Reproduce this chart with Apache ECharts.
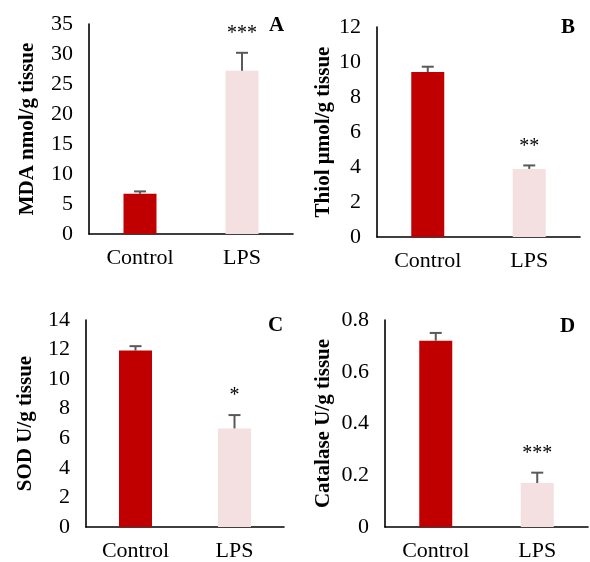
<!DOCTYPE html>
<html><head><meta charset="utf-8">
<script src="https://cdn.jsdelivr.net/npm/echarts@6/dist/echarts.min.js"></script>
<style>html,body{margin:0;padding:0;background:#fff}#c{width:590px;height:562px}</style>
</head><body><div id="c"></div>
<script>
var categories = ['Control', 'LPS'];
var mdaValues = [6.7, 27.2];
var mdaErrors = [0.4, 3.0];
var mdaSig = ['', '***'];
var thiolValues = [9.43, 3.89];
var thiolErrors = [0.3, 0.2];
var thiolSig = ['', '**'];
var sodValues = [11.93, 6.67];
var sodErrors = [0.3, 0.9];
var sodSig = ['', '*'];
var catValues = [0.72, 0.17];
var catErrors = [0.03, 0.04];
var catSig = ['', '***'];
var panelLetters = ['A', 'B', 'C', 'D'];
var yTitles = ['MDA nmol/g tissue', 'Thiol \u00b5mol/g tissue', 'SOD U/g tissue', 'Catalase U/g tissue'];
var yMax = [35, 12, 14, 0.8];
var yInterval = [5, 2, 2, 0.2];

var barColors = ['#C00000', '#F4E0E0'];
var FONT = '"Liberation Serif", "Times New Roman", serif';

var panels = [
  {v: mdaValues, e: mdaErrors, s: mdaSig},
  {v: thiolValues, e: thiolErrors, s: thiolSig},
  {v: sodValues, e: sodErrors, s: sodSig},
  {v: catValues, e: catErrors, s: catSig}
];
var grids = [
  {left: 89, top: 24, width: 204, height: 210},
  {left: 377, top: 27, width: 203, height: 210},
  {left: 86, top: 320, width: 198, height: 210},
  {left: 385, top: 320, width: 203, height: 209}
];
var nameGaps = [51, 43, 50, 51];
var letterPos = [[276, 23], [568, 25], [275, 323], [567, 324]];

var option = {
  backgroundColor: '#fff',
  animation: false,
  grid: grids.map(function (g) { return Object.assign({containLabel: false}, g); }),
  title: panelLetters.map(function (l, i) {
    return {text: l, left: letterPos[i][0] - 7, top: letterPos[i][1] - 8, padding: 0,
      textStyle: {fontFamily: FONT, fontWeight: 'bold', fontSize: 21, color: '#000'}};
  }),
  xAxis: grids.map(function (g, i) {
    return {type: 'category', gridIndex: i, data: categories,
      axisLine: {lineStyle: {color: '#000', width: 1.6}}, axisTick: {show: false},
      axisLabel: {fontFamily: FONT, fontSize: 22, color: '#000', margin: 13}};
  }),
  yAxis: grids.map(function (g, i) {
    return {type: 'value', gridIndex: i, min: 0, max: yMax[i], interval: yInterval[i],
      name: yTitles[i], nameLocation: 'middle', nameGap: nameGaps[i],
      nameTextStyle: {fontFamily: FONT, fontWeight: 'bold', fontSize: 21, color: '#000'},
      axisLine: {show: true, lineStyle: {color: '#000', width: 1.6}}, axisTick: {show: false},
      splitLine: {show: false},
      axisLabel: {fontFamily: FONT, fontSize: 22, color: '#000', margin: 16}};
  }),
  series: []
};

panels.forEach(function (p, i) {
  option.series.push({
    type: 'bar', xAxisIndex: i, yAxisIndex: i, barWidth: 33,
    data: p.v.map(function (v, k) { return {value: v, itemStyle: {color: barColors[k]}}; })
  });
  option.series.push({
    type: 'custom', xAxisIndex: i, yAxisIndex: i, z: 5,
    data: p.v.map(function (v, k) { return [k, v, v + p.e[k]]; }),
    renderItem: function (params, api) {
      var k = api.value(0);
      var base = api.coord([k, api.value(1)]);
      var top = api.coord([k, api.value(2)]);
      var sig = p.s[params.dataIndex];
      var children = [
        {type: 'line', shape: {x1: base[0], y1: base[1], x2: top[0], y2: top[1]},
          style: {stroke: '#595959', lineWidth: 2}},
        {type: 'line', shape: {x1: top[0] - 6, y1: top[1], x2: top[0] + 6, y2: top[1]},
          style: {stroke: '#595959', lineWidth: 2}}
      ];
      if (sig) {
        children.push({type: 'text', x: top[0], y: top[1] - 9,
          style: {text: sig, fontFamily: FONT, fontSize: 20, fill: '#000',
            align: 'center', verticalAlign: 'bottom'}});
      }
      return {type: 'group', children: children};
    }
  });
});

var chart = echarts.init(document.getElementById('c'), null, {renderer: 'canvas'});
chart.setOption(option);
</script></body></html>
